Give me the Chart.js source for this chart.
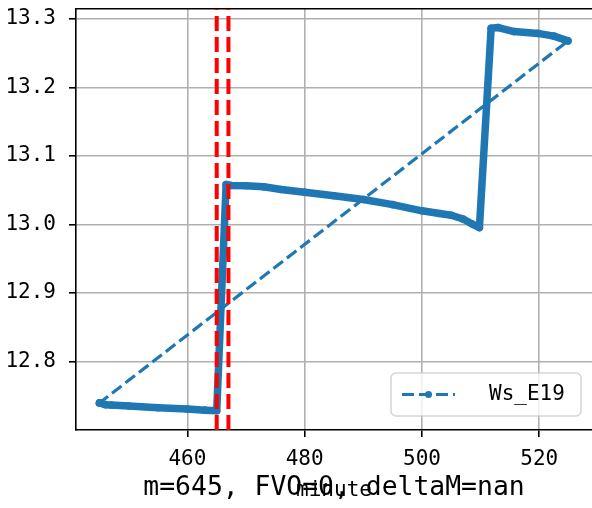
<!DOCTYPE html>
<html lang="en">
<head>
    <meta charset="UTF-8">
    <title>Ws_E19</title>
    <script src="https://cdn.jsdelivr.net/npm/chart.js"></script>
    <style>
        html, body {
            margin: 0;
            padding: 0;
            background-color: #fff;
            overflow: hidden;
        }
        canvas {
            display: block;
        }
    </style>
</head>
<body>
    <canvas id="wsChart" width="592" height="508"></canvas>
    <script>
        // --- data ---
        // series order as plotted: 445 -> 525, then back to the first point
        const minutes = [
            445, 446, 447, 450, 455, 460, 463, 465,
            466.6, 467.5, 470, 473, 476, 480, 485, 490, 495, 500, 503, 505, 507, 508.5, 509.8,
            511.8, 513, 515.7, 519.8, 522.5, 524.9,
            445
        ];
        const values = [
            12.7395, 12.7370, 12.7365, 12.7350, 12.7325, 12.7305, 12.7290, 12.7280,
            13.0585, 13.0570, 13.0565, 13.0550, 13.0510, 13.0470, 13.0420, 13.0365, 13.0290, 13.0200, 13.0160, 13.0135, 13.0080, 13.0010, 12.9955,
            13.2865, 13.2875, 13.2816, 13.2790, 13.2750, 13.2680,
            12.7395
        ];
        const markerMinutes = [465, 467];
        const xTicks = [460, 480, 500, 520];
        const yTicks = [12.8, 12.9, 13.0, 13.1, 13.2, 13.3];
        const seriesLabel = 'Ws_E19';
        const titleText = 'm=645, FVO=0, deltaM=nan';
        const xLabel = 'minute';

        const X_MIN = 441, X_MAX = 529;
        const Y_MIN = 12.7, Y_MAX = 13.3146;

        const BLUE = '#1f77b4';
        const RED = '#ff0000';
        const FONT = "'DejaVu Sans Mono', 'Liberation Mono', monospace";

        const seriesPoints = minutes.map((m, i) => ({ x: m, y: values[i] }));
        // thick trace behind the dense markers (everything except the closing jump back)
        const tracePoints = seriesPoints.slice(0, -1);

        const vlineSets = markerMinutes.map(m => ({
            data: [{ x: m, y: Y_MIN }, { x: m, y: Y_MAX }],
            borderColor: RED,
            borderWidth: 4,
            borderDash: [15, 6],
            pointRadius: 0,
            order: 0
        }));

        // no extra room for the end tick labels: the axes box is fixed
        const noPad = scale => {
            scale.paddingTop = 0;
            scale.paddingBottom = 0;
            scale.paddingLeft = 0;
            scale.paddingRight = 0;
        };

        // matplotlib-style legend box in the lower right of the axes
        const boxLegend = {
            id: 'boxLegend',
            afterDatasetsDraw(chart) {
                const ctx = chart.ctx;
                const area = chart.chartArea;
                const w = 190, h = 43;
                const x = area.right - 11 - w;
                const y = area.bottom - 14 - h;
                const cy = y + h / 2;

                ctx.save();
                ctx.beginPath();
                ctx.roundRect(x, y, w, h, 5);
                ctx.fillStyle = 'rgba(255,255,255,0.8)';
                ctx.fill();
                ctx.strokeStyle = 'rgba(204,204,204,0.8)';
                ctx.lineWidth = 1.6;
                ctx.stroke();

                ctx.beginPath();
                ctx.setLineDash([12, 5]);
                ctx.moveTo(x + 11, cy);
                ctx.lineTo(x + 64, cy);
                ctx.strokeStyle = BLUE;
                ctx.lineWidth = 3;
                ctx.stroke();
                ctx.setLineDash([]);

                ctx.beginPath();
                ctx.arc(x + 37.5, cy, 3.5, 0, Math.PI * 2);
                ctx.fillStyle = BLUE;
                ctx.fill();

                ctx.fillStyle = '#000';
                ctx.font = '21px ' + FONT;
                ctx.textBaseline = 'middle';
                ctx.textAlign = 'left';
                ctx.fillText(seriesLabel, x + 98, cy);
                ctx.restore();
            }
        };

        new Chart(document.getElementById('wsChart'), {
            type: 'line',
            data: {
                datasets: [
                    ...vlineSets,
                    {
                        label: seriesLabel,
                        data: seriesPoints,
                        borderColor: BLUE,
                        backgroundColor: BLUE,
                        borderWidth: 3.2,
                        borderDash: [12, 5],
                        pointRadius: 3.8,
                        pointBorderWidth: 0,
                        pointBackgroundColor: BLUE,
                        tension: 0,
                        order: 1
                    },
                    {
                        label: 'trace',
                        data: tracePoints,
                        borderColor: BLUE,
                        borderWidth: 7.5,
                        borderCapStyle: 'round',
                        borderJoinStyle: 'round',
                        pointRadius: 0,
                        tension: 0,
                        order: 2
                    }
                ]
            },
            options: {
                responsive: false,
                animation: false,
                layout: {
                    autoPadding: false,
                    padding: { top: 9, left: 0, right: 0, bottom: 0 }
                },
                plugins: {
                    legend: { display: false },
                    tooltip: { enabled: false },
                    title: {
                        display: true,
                        text: titleText,
                        position: 'bottom',
                        fullSize: false,
                        color: '#000',
                        font: { family: FONT, size: 26.4, weight: 'normal', lineHeight: 1.2 },
                        padding: { top: -36, bottom: 4.3 }
                    }
                },
                scales: {
                    x: {
                        type: 'linear',
                        position: 'bottom',
                        min: X_MIN,
                        max: X_MAX,
                        afterBuildTicks: scale => { scale.ticks = xTicks.map(v => ({ value: v })); },
                        afterFit: scale => { scale.height = 78; noPad(scale); },
                        ticks: {
                            color: '#000',
                            padding: 10,
                            font: { family: FONT, size: 21 },
                            maxRotation: 0
                        },
                        grid: {
                            color: '#b0b0b0',
                            lineWidth: 1.6,
                            tickColor: '#000',
                            tickLength: 7,
                            tickWidth: 1.6
                        },
                        border: { color: '#000', width: 1.6 },
                        title: {
                            display: true,
                            text: xLabel,
                            color: '#000',
                            font: { family: FONT, size: 21, lineHeight: 1.2 },
                            padding: { top: 0, bottom: 5 }
                        }
                    },
                    xTop: {
                        type: 'linear',
                        position: 'top',
                        min: X_MIN,
                        max: X_MAX,
                        ticks: { display: false },
                        grid: { display: false, drawTicks: false },
                        border: { display: true, color: '#000', width: 1.6 },
                        afterFit: scale => { scale.height = 0; noPad(scale); }
                    },
                    y: {
                        type: 'linear',
                        min: Y_MIN,
                        max: Y_MAX,
                        afterBuildTicks: scale => { scale.ticks = yTicks.map(v => ({ value: v })); },
                        afterFit: scale => { scale.width = 76; noPad(scale); },
                        ticks: {
                            color: '#000',
                            padding: 13,
                            font: { family: FONT, size: 21 },
                            callback: v => v.toFixed(1)
                        },
                        grid: {
                            color: '#b0b0b0',
                            lineWidth: 1.6,
                            tickColor: '#000',
                            tickLength: 7,
                            tickWidth: 1.6
                        },
                        border: { color: '#000', width: 1.6 }
                    }
                }
            },
            plugins: [boxLegend]
        });
    </script>
</body>
</html>
